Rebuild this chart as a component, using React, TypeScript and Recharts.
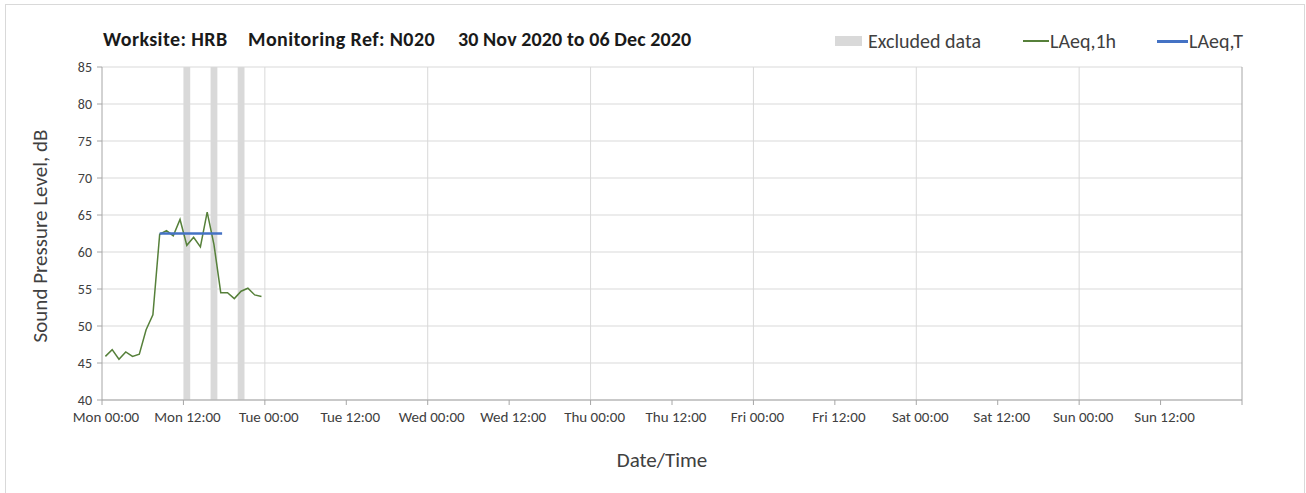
import { ComposedChart, Line, XAxis, YAxis, CartesianGrid, ReferenceArea, ReferenceLine } from 'recharts';

// hour offsets from Mon 00:00 (mid-hour of each hourly period)
const hours = [0.5, 1.5, 2.5, 3.5, 4.5, 5.5, 6.5, 7.5, 8.5, 9.5, 10.5, 11.5, 12.5, 13.5, 14.5, 15.5, 16.5, 17.5, 18.5, 19.5, 20.5, 21.5, 22.5, 23.5];
const laeq1h = [45.9, 46.8, 45.5, 46.5, 45.9, 46.2, 49.5, 51.5, 62.4, 62.9, 62.2, 64.4, 60.9, 62.0, 60.7, 65.4, 61.0, 54.5, 54.5, 53.7, 54.7, 55.1, 54.2, 54.0];

const laeqTHours = [8.5, 17.7];
const laeqTValues = [62.5, 62.5];

// excluded periods, hours from Mon 00:00
const excludedStart = [12, 16, 20];
const excludedEnd = [13, 17, 21];

const xTicks = [0, 12, 24, 36, 48, 60, 72, 84, 96, 108, 120, 132, 144, 156, 168];
const xTickLabels = ['Mon 00:00', 'Mon 12:00', 'Tue 00:00', 'Tue 12:00', 'Wed 00:00', 'Wed 12:00', 'Thu 00:00', 'Thu 12:00', 'Fri 00:00', 'Fri 12:00', 'Sat 00:00', 'Sat 12:00', 'Sun 00:00', 'Sun 12:00', ''];
const dayLines = [24, 48, 72, 96, 120, 144];
const yTicks = [40, 45, 50, 55, 60, 65, 70, 75, 80, 85];

const FONT = 'Carlito, Lato, sans-serif';
const TEXT = '#404040';
const AXIS = '#a6a6a6';
const GRID = '#d9d9d9';
const GREEN = '#56803a';
const BLUE = '#4472c4';

const lineData = hours.map((h, i) => ({ h, v: laeq1h[i] }));
const tData = laeqTHours.map((h, i) => ({ h, t: laeqTValues[i] }));

function ChartLegend() {
  const item = { position: 'absolute' as const, top: 0, lineHeight: '24px' };
  return (
    <div style={{ position: 'absolute', left: 0, top: 29, width: 1306, height: 24, fontSize: 20, color: TEXT }}>
      <span style={{ position: 'absolute', left: 835, top: 7, width: 27, height: 10, background: GRID }} />
      <span style={{ ...item, left: 868 }}>Excluded data</span>
      <span style={{ position: 'absolute', left: 1023, top: 11, width: 26, height: 2, background: GREEN }} />
      <span style={{ ...item, left: 1050 }}>LAeq,1h</span>
      <span style={{ position: 'absolute', left: 1157, top: 11, width: 31, height: 3, background: BLUE }} />
      <span style={{ ...item, left: 1189 }}>LAeq,T</span>
    </div>
  );
}

export default function App() {
  return (
    <div style={{ position: 'absolute', left: 0, top: 0, width: 1306, height: 493, background: '#fff', fontFamily: FONT, overflow: 'hidden' }}>
      <div style={{ position: 'absolute', left: 5, top: 4, width: 1298, height: 495, border: `1px solid ${GRID}` }} />
      <ComposedChart width={1306} height={493} margin={{ top: 67, right: 64, bottom: 0, left: 0 }} style={{ position: 'absolute', left: 0, top: 0 }}>
        <CartesianGrid horizontal vertical={false} stroke={GRID} />
        {excludedStart.map((s, i) => (
          <ReferenceArea key={s} x1={s} x2={excludedEnd[i]} y1={40} y2={85} fill={GRID} fillOpacity={1} stroke="none" />
        ))}
        {dayLines.map((d) => (
          <ReferenceLine key={d} x={d} stroke={GRID} />
        ))}
        <ReferenceLine x={168} stroke={AXIS} />
        <XAxis
          type="number"
          dataKey="h"
          domain={[0, 168]}
          ticks={xTicks}
          interval={0}
          height={93}
          stroke={AXIS}
          tickSize={5}
          tick={{ fill: TEXT, fontSize: 15, fontFamily: FONT, dx: 4, dy: 4 }}
          tickFormatter={(v: number) => xTickLabels[xTicks.indexOf(v)]}
          label={{
            content: () => (
              <text x={662} y={467} textAnchor="middle" fill={TEXT} fontSize={21} fontFamily={FONT}>
                Date/Time
              </text>
            ),
          }}
        />
        <YAxis
          type="number"
          domain={[40, 85]}
          ticks={yTicks}
          interval={0}
          width={102}
          stroke={AXIS}
          tickSize={5}
          tick={{ fill: TEXT, fontSize: 14, fontFamily: FONT, dx: -3 }}
          label={{
            content: () => (
              <text x={47} y={236} transform="rotate(-90 47 236)" textAnchor="middle" fill={TEXT} fontSize={21} fontFamily={FONT}>
                Sound Pressure Level, dB
              </text>
            ),
          }}
        />
        <Line data={lineData} dataKey="v" stroke={GREEN} strokeWidth={1.5} dot={false} isAnimationActive={false} name="LAeq,1h" />
        <Line data={tData} dataKey="t" stroke={BLUE} strokeWidth={2.5} dot={false} isAnimationActive={false} name="LAeq,T" />
      </ComposedChart>
      <div style={{ position: 'absolute', left: 103, top: 27, fontSize: 20, fontWeight: 700, color: '#1a1a1a', whiteSpace: 'nowrap', letterSpacing: 0.4 }}>
        <span style={{ position: 'absolute', left: 0 }}>Worksite: HRB</span>
        <span style={{ position: 'absolute', left: 145 }}>Monitoring Ref: N020</span>
        <span style={{ position: 'absolute', left: 355, letterSpacing: 0.1 }}>30 Nov 2020 to 06 Dec 2020</span>
      </div>
      <ChartLegend />
    </div>
  );
}
